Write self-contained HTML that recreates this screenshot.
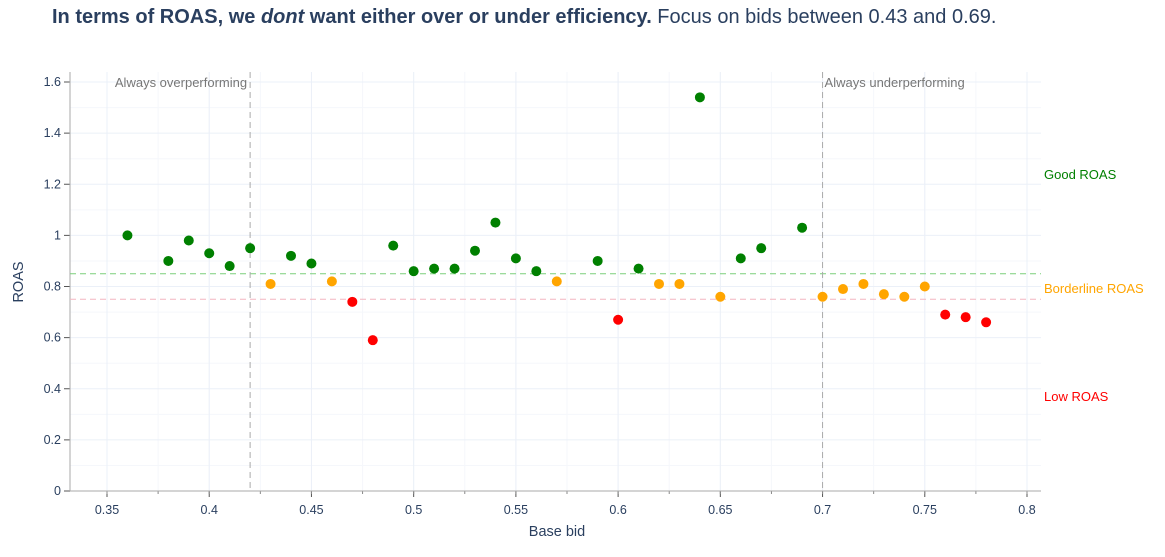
<!DOCTYPE html>
<html><head><meta charset="utf-8"><style>
body{margin:0;background:#fff;font-family:"Liberation Sans",Arial,sans-serif;}
svg text{font-family:"Liberation Sans",Arial,sans-serif;}
</style></head><body>
<svg id="chart" width="1165" height="552" xmlns="http://www.w3.org/2000/svg">
<text x="52" y="23" font-size="20" fill="#2a3f5f"><tspan font-weight="bold">In terms of ROAS, we <tspan font-style="italic">dont</tspan> want either over or under efficiency.</tspan> Focus on bids between 0.43 and 0.69.</text>
<g id="grid"></g>
<g id="marks"></g>
<text x="557" y="536" font-size="14.5" fill="#2a3f5f" text-anchor="middle">Base bid</text>
<text transform="translate(23,282) rotate(-90)" font-size="14.5" fill="#2a3f5f" text-anchor="middle">ROAS</text>
</svg>
<script>
const bids=[0.36,0.38,0.39,0.40,0.41,0.42,0.43,0.44,0.45,0.46,0.47,0.48,0.49,0.50,0.51,0.52,0.53,0.54,0.55,0.56,0.57,0.59,0.60,0.61,0.62,0.63,0.64,0.65,0.66,0.67,0.69,0.70,0.71,0.72,0.73,0.74,0.75,0.76,0.77,0.78];
const roas=[1.00,0.90,0.98,0.93,0.88,0.95,0.81,0.92,0.89,0.82,0.74,0.59,0.96,0.86,0.87,0.87,0.94,1.05,0.91,0.86,0.82,0.90,0.67,0.87,0.81,0.81,1.54,0.76,0.91,0.95,1.03,0.76,0.79,0.81,0.77,0.76,0.80,0.69,0.68,0.66];
const xTicks=[0.35,0.4,0.45,0.5,0.55,0.6,0.65,0.7,0.75,0.8];
const xTickLabels=["0.35","0.4","0.45","0.5","0.55","0.6","0.65","0.7","0.75","0.8"];
const yTicks=[0,0.2,0.4,0.6,0.8,1,1.2,1.4,1.6];
const yTickLabels=["0","0.2","0.4","0.6","0.8","1","1.2","1.4","1.6"];
const goodLine=0.85, borderLine=0.75, leftBid=0.42, rightBid=0.70;
const L=70,R=1041,T=72,B=491;
const x=v=>107+(v-0.35)*(920/0.45);
const y=v=>491-v*(409/1.6);
const NS="http://www.w3.org/2000/svg";
function mk(p,tag,a){const e=document.createElementNS(NS,tag);for(const k in a)e.setAttribute(k,a[k]);p.appendChild(e);return e;}
const g=document.getElementById('grid'),m=document.getElementById('marks');
for(let v=0.325;v<0.81;v+=0.025){const px=x(v);if(px<L||px>R)continue;const l=mk(g,'line',{x1:px,x2:px,y1:T,y2:B,stroke:'#f5f7fb','stroke-width':1});

}
for(let v=0.1;v<1.64;v+=0.2){const l=mk(g,'line',{x1:L,x2:R,y1:y(v),y2:y(v),stroke:'#f5f7fb','stroke-width':1});

}
xTicks.forEach((v,i)=>{const l=mk(g,'line',{x1:x(v),x2:x(v),y1:T,y2:B,stroke:'#ebf0f8'});


mk(g,'line',{x1:x(v),x2:x(v),y1:B,y2:B+6,stroke:'#555'});
const t=mk(g,'text',{x:x(v),y:B+23,'font-size':12.5,fill:'#2a3f5f','text-anchor':'middle'});t.textContent=xTickLabels[i];

});
for(let v=0.325;v<0.81;v+=0.025){const px=x(v);if(px<L||px>R)continue;mk(g,'line',{x1:px,x2:px,y1:B,y2:B+3,stroke:'#888'});}
yTicks.forEach((v,i)=>{if(v>0){const l=mk(g,'line',{x1:L,x2:R,y1:y(v),y2:y(v),stroke:'#ebf0f8'});

}
mk(g,'line',{x1:L-6,x2:L,y1:y(v),y2:y(v),stroke:'#555'});
const t=mk(g,'text',{x:L-9,y:y(v)+4,'font-size':12.5,fill:'#2a3f5f','text-anchor':'end'});t.textContent=yTickLabels[i];

});
mk(g,'line',{x1:L,x2:L,y1:T,y2:B,stroke:'#aaa'});mk(g,'line',{x1:L,x2:R,y1:B,y2:B,stroke:'#aaa'});
let e;
e=mk(g,'line',{x1:L,x2:R,y1:y(goodLine),y2:y(goodLine),stroke:'#7ccf7c','stroke-dasharray':'6,4'});


e=mk(g,'line',{x1:L,x2:R,y1:y(borderLine),y2:y(borderLine),stroke:'#f4b6c0','stroke-dasharray':'6,4'});


[leftBid,rightBid].forEach(v=>{const l=mk(g,'line',{x1:x(v),x2:x(v),y1:T,y2:B,stroke:'#aaa','stroke-dasharray':'6,4'});

});
const ann=[[x(leftBid)-3,87,'Always overperforming','#777','end'],[x(rightBid)+2,87,'Always underperforming','#777','start'],[1044,179,'Good ROAS','#008000','start'],[1044,293,'Borderline ROAS','#ffa500','start'],[1044,401,'Low ROAS','#ff0000','start']];
ann.forEach(a=>{const t=mk(g,'text',{x:a[0],y:a[1],'font-size':13,fill:a[3],'text-anchor':a[4]});t.textContent=a[2];

});
bids.forEach((b,i)=>{const v=roas[i];const c=v>=goodLine?'#008000':(v>=borderLine?'#ffa500':'#ff0000');
const p=mk(m,'circle',{cx:x(b),cy:y(v),r:5,fill:c});

});
</script>
</body></html>
